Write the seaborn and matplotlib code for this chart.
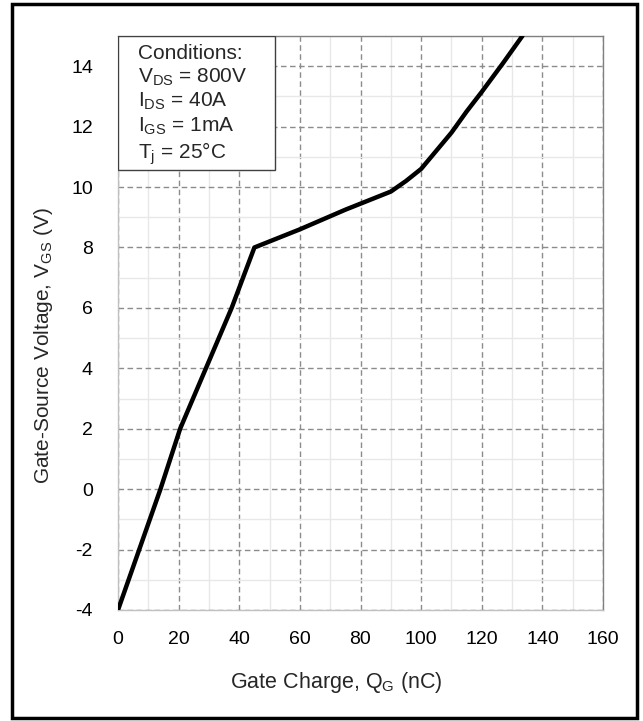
import matplotlib
matplotlib.use("Agg")
import matplotlib.pyplot as plt
from matplotlib.patches import Rectangle
from matplotlib.ticker import MultipleLocator
import seaborn as sns
import pandas as pd

# Data
qg_nc = [0, 7, 14, 20.5, 29, 37.5, 45, 60, 75, 90, 95, 100, 105, 110, 115, 120, 127, 133.4]
vgs_v = [-4, -2, 0, 2, 4, 6, 8, 8.6, 9.25, 9.85, 10.2, 10.6, 11.2, 11.8, 12.5, 13.15, 14.1, 15]
x_ticks = [0, 20, 40, 60, 80, 100, 120, 140, 160]
y_ticks = [-4, -2, 0, 2, 4, 6, 8, 10, 12, 14]
conditions = ["Conditions:", r"V$_{\mathregular{DS}}$ = 800V", r"I$_{\mathregular{DS}}$ = 40A",
              r"I$_{\mathregular{GS}}$ = 1mA", r"T$_{\mathregular{j}}$ = 25°C"]

df = pd.DataFrame({"QG": qg_nc, "VGS": vgs_v})

sns.set_theme(style="white")
plt.rcParams["font.family"] = ["Liberation Sans", "DejaVu Sans"]
plt.rcParams["mathtext.fontset"] = "custom"
plt.rcParams["mathtext.rm"] = "Liberation Sans"
plt.rcParams["mathtext.it"] = "Liberation Sans"
plt.rcParams["mathtext.default"] = "regular"
plt.rcParams["axes.unicode_minus"] = False

fig = plt.figure(figsize=(6.43, 7.21), dpi=100)
ax = fig.add_axes([118/643, 1-610/721, (603-118)/643, (610-36)/721])

sns.lineplot(data=df, x="QG", y="VGS", ax=ax, color="black", lw=3.2, sort=False, zorder=5)

ax.set_xlim(0, 160)
ax.set_ylim(-4, 15)
ax.set_xticks(x_ticks)
ax.set_yticks(y_ticks)
ax.xaxis.set_minor_locator(MultipleLocator(10))
ax.yaxis.set_minor_locator(MultipleLocator(1))
ax.grid(which="minor", color="#e8e8e8", lw=1.0, ls="-", zorder=0)
ax.grid(which="major", color="#8c8c8c", lw=1.0, ls=(0, (4, 2.5)), zorder=1)
ax.set_axisbelow(True)
ax.tick_params(which="both", length=0, labelsize=14, colors="black")
ax.tick_params(axis="x", pad=15)
ax.tick_params(axis="y", pad=18)

for s in ["left", "bottom"]:
    ax.spines[s].set_color("#c0c0c0")
for s in ["top", "right"]:
    ax.spines[s].set_color("#808080")
for s in ax.spines.values():
    s.set_linewidth(1.0)

ax.set_xlabel(r"Gate Charge, Q$_{\mathregular{G}}$ (nC)", fontsize=15.5, va="center")
ax.set_ylabel(r"Gate-Source Voltage, V$_{\mathregular{GS}}$ (V)", fontsize=15, va="center")
ax.xaxis.set_label_coords(0.45, -0.127)
ax.yaxis.set_label_coords(-0.1526, 0.46)

# Conditions box
box = Rectangle((0, 10.57), 51.8, 4.43, transform=ax.transData, facecolor="white",
                edgecolor="#404040", lw=1.0, zorder=6)
ax.add_patch(box)
ax.text(6.6, 14.72, "\n".join(conditions), fontsize=15, va="top", ha="left",
        linespacing=1.2, zorder=7)

# Outer frame
fig.patches.append(Rectangle((12/643, 1-718/721), (637-12)/643, (718-4)/721,
                             transform=fig.transFigure, fill=False, edgecolor="black",
                             lw=2.5, zorder=10))

fig.savefig("out.png", dpi=100)
